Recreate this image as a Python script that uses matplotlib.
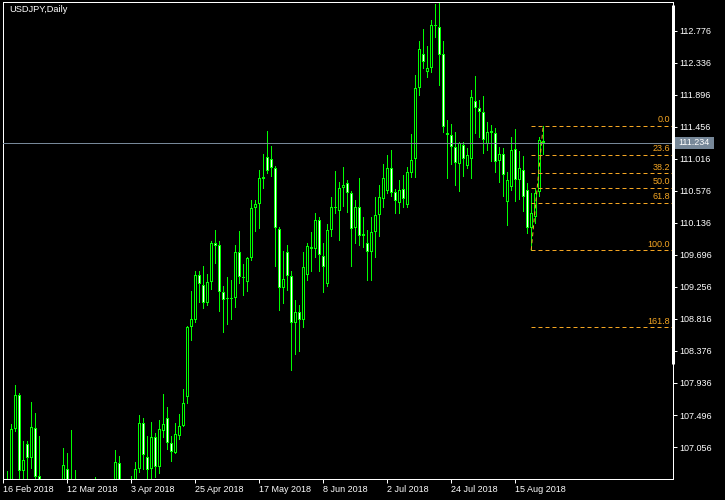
import pandas as pd
import matplotlib
matplotlib.use("Agg")
import matplotlib.pyplot as plt
import matplotlib.transforms as mtransforms
from matplotlib.patches import Rectangle

plt.rcParams["font.family"] = ["Liberation Sans", "DejaVu Sans"]

SYMBOL = "USDJPY,Daily"
FIRST_DAY = "2018-02-16"

# daily OHLC, one entry per trading day
opens = [106.10, 106.30, 106.55, 107.31, 107.77, 106.73, 107.10, 106.90, 107.32, 106.66,
         106.20, 105.75, 106.20, 106.05, 106.10, 106.30, 106.75, 106.40, 106.55, 106.30,
         106.35, 105.95, 106.10, 106.45, 105.95, 105.25, 104.75, 105.40, 105.45, 106.83,
         106.30, 106.25, 105.90, 106.55, 106.76, 107.38, 106.92, 106.75, 107.19, 106.78,
         107.28, 107.45, 107.11, 106.98, 107.21, 107.35, 107.75, 108.70, 108.80, 109.42,
         109.28, 109.04, 109.33, 109.86, 109.83, 109.18, 109.09, 109.11, 109.11, 109.73,
         109.39, 109.32, 109.65, 110.34, 110.39, 110.74, 111.04, 111.01, 110.89, 110.05,
         109.24, 109.73, 109.41, 108.76, 108.91, 108.80, 109.42, 109.80, 109.77, 110.18,
         109.68, 109.29, 110.04, 110.36, 110.30, 110.61, 110.68, 110.54, 110.06, 110.35,
         109.95, 109.86, 109.74, 110.01, 110.25, 110.47, 110.57, 110.89, 110.56, 110.41,
         110.60, 110.38, 110.82, 111.01, 111.99, 112.45, 112.21, 112.27, 112.84, 112.82,
         112.45, 111.37, 111.34, 111.18, 110.95, 111.21, 110.92, 111.02, 111.81, 111.71,
         111.66, 111.22, 111.40, 111.37, 110.98, 111.08, 110.42, 110.63, 111.15, 110.73,
         110.86, 110.59, 110.06, 110.22, 110.56, 111.26]
highs = [106.55, 106.73, 107.37, 107.91, 107.80, 107.14, 107.14, 107.67, 107.52, 107.21,
         106.40, 106.30, 106.50, 106.55, 106.50, 107.04, 106.97, 107.29, 106.74, 106.55,
         106.45, 106.30, 106.55, 106.64, 106.10, 105.45, 105.50, 105.90, 107.02, 106.93,
         106.45, 106.60, 106.66, 106.85, 107.49, 107.45, 107.21, 107.40, 107.25, 107.43,
         107.78, 107.60, 107.21, 107.38, 107.51, 107.85, 108.72, 109.20, 109.47, 109.47,
         109.54, 109.44, 109.89, 110.04, 109.89, 109.27, 109.39, 109.35, 109.83, 110.02,
         109.57, 109.66, 110.45, 110.45, 110.86, 111.08, 111.40, 111.19, 110.92, 110.08,
         109.75, 109.83, 109.47, 109.08, 109.01, 109.74, 109.86, 110.01, 110.27, 110.21,
         109.86, 110.12, 110.49, 110.85, 110.70, 110.90, 110.73, 110.58, 110.45, 110.75,
         110.22, 110.04, 110.21, 110.49, 110.66, 110.94, 111.07, 111.14, 110.60, 110.73,
         110.79, 110.91, 111.36, 112.17, 112.63, 112.80, 112.57, 112.92, 113.14, 113.16,
         112.63, 111.55, 111.50, 111.39, 111.25, 111.24, 111.16, 111.96, 112.15, 111.82,
         111.88, 111.52, 111.48, 111.44, 111.18, 111.16, 110.83, 111.32, 111.42, 111.12,
         111.06, 110.68, 110.54, 110.62, 111.32, 111.47]
lows = [105.55, 106.10, 106.40, 107.27, 106.55, 106.55, 106.55, 106.77, 106.55, 105.95,
        105.25, 105.35, 105.90, 105.85, 105.95, 106.00, 106.30, 106.25, 106.00, 105.95,
        105.60, 105.60, 105.95, 105.60, 105.15, 104.65, 104.60, 105.20, 105.30, 106.15,
        106.10, 105.65, 105.70, 105.95, 106.71, 106.76, 106.62, 106.62, 106.64, 106.70,
        107.20, 107.03, 106.87, 106.97, 107.17, 107.34, 107.66, 108.53, 108.78, 109.05,
        108.96, 109.01, 109.23, 109.59, 108.92, 108.64, 108.75, 108.82, 108.98, 109.31,
        109.15, 109.20, 109.62, 110.03, 110.07, 110.61, 110.82, 110.78, 109.55, 108.94,
        109.04, 109.21, 108.11, 108.34, 108.38, 108.71, 109.35, 109.47, 109.67, 109.47,
        109.19, 109.27, 109.95, 110.27, 109.90, 110.37, 110.29, 109.55, 109.86, 109.83,
        109.80, 109.35, 109.35, 109.67, 109.96, 110.35, 110.55, 110.50, 110.27, 110.27,
        110.36, 110.35, 110.76, 110.76, 111.89, 112.26, 112.14, 112.21, 112.69, 112.03,
        111.39, 110.75, 110.95, 110.65, 110.58, 110.78, 110.89, 110.75, 111.37, 111.32,
        111.09, 111.14, 110.98, 110.83, 110.70, 110.50, 110.10, 110.59, 110.43, 110.46,
        110.30, 109.99, 109.76, 110.14, 110.51, 111.08]
closes = [106.30, 106.55, 107.31, 107.77, 106.73, 106.88, 106.91, 107.33, 106.65, 106.20,
          105.75, 106.20, 106.05, 106.10, 106.25, 106.81, 106.40, 106.55, 106.30, 106.35,
          105.95, 106.10, 106.45, 105.95, 105.25, 104.75, 105.40, 105.50, 106.85, 106.30,
          106.25, 105.90, 106.55, 106.76, 107.38, 106.94, 106.74, 107.19, 106.78, 107.30,
          107.37, 107.11, 106.99, 107.24, 107.35, 107.66, 108.70, 108.81, 109.42, 109.29,
          109.04, 109.32, 109.86, 109.82, 109.18, 109.07, 109.10, 109.09, 109.73, 109.39,
          109.38, 109.65, 110.34, 110.40, 110.75, 110.76, 110.85, 110.89, 110.06, 109.24,
          109.37, 109.41, 108.76, 108.91, 108.80, 109.53, 109.82, 109.77, 110.18, 109.69,
          109.53, 110.04, 110.36, 110.34, 110.61, 110.65, 110.54, 110.05, 110.35, 109.95,
          109.98, 109.73, 110.01, 110.25, 110.49, 110.75, 110.89, 110.55, 110.43, 110.59,
          110.46, 110.84, 111.00, 111.99, 112.53, 112.34, 112.27, 112.86, 112.86, 112.44,
          111.45, 111.34, 111.18, 110.96, 111.23, 111.01, 111.07, 111.86, 111.71, 111.66,
          111.27, 111.39, 111.37, 110.97, 111.08, 110.79, 110.73, 111.14, 110.73, 110.89,
          110.49, 110.06, 110.27, 110.55, 111.27, 111.234]

BID = 111.234
FIB_LOW, FIB_HIGH = 109.760, 111.471
FIB_FROM, FIB_TO = 132, 135          # bars of the low / high anchors
FIB_LEVELS = [0.0, 23.6, 38.2, 50.0, 61.8, 100.0, 161.8]
PRICE_TICKS = [112.776, 112.336, 111.896, 111.456, 111.016, 110.576, 110.136,
               109.696, 109.256, 108.816, 108.376, 107.936, 107.496, 107.056]
LABEL_EVERY = 16

GREEN = "#00FF00"
FIB_COL = "#F5A623"
BID_COL = "#778899"
PX = 0.72            # one pixel in points at dpi 100
YMIN, YMAX = 106.617, 113.170
AX_H_PX = 477
PY = (YMAX - YMIN) / AX_H_PX   # one pixel in price units
XMIN = -0.175                   # puts bar centres on pixel centres (4 px per bar)

n = len(opens)
xs = list(range(n))
dates = pd.bdate_range(FIRST_DAY, periods=n)

fig = plt.figure(figsize=(7.25, 5.0), dpi=100, facecolor="black")
ax = fig.add_axes([2.5 / 725, 21 / 500, 670 / 725, AX_H_PX / 500], facecolor="black")
ax.set_xlim(XMIN, XMIN + 670 / 4)
ax.set_ylim(YMIN, YMAX)

# candles: wick, green body block, then 1px inner fill (bull = black, bear = white)
ax.vlines(xs, lows, highs, colors=GREEN, linewidth=PX, antialiased=False, zorder=2)
tops = [max(o, c) for o, c in zip(opens, closes)]
bots = [min(o, c) for o, c in zip(opens, closes)]
outer_h = [max(t - b, PY) for t, b in zip(tops, bots)]
ax.bar(xs, outer_h, bottom=bots, width=0.75, color=GREEN, linewidth=0,
       antialiased=False, zorder=3)
inner = [(x, b + PY, t - b - 2 * PY, "black" if c >= o else "white")
         for x, b, t, o, c in zip(xs, bots, tops, opens, closes) if t - b > 2.5 * PY]
ax.bar([v[0] for v in inner], [v[2] for v in inner], bottom=[v[1] for v in inner],
       width=0.25, color=[v[3] for v in inner], linewidth=0, antialiased=False, zorder=3.5)

# bid line + price box
ax.axhline(BID, color=BID_COL, linewidth=PX, zorder=5)
trans = mtransforms.blended_transform_factory(ax.transAxes, ax.transData)
ax.add_patch(Rectangle((1.0025, BID - 0.077), 0.0597, 0.154, transform=trans,
                       facecolor=BID_COL, edgecolor="none", clip_on=False, zorder=6))
ax.text(1.0325, BID, f"{BID:.3f}", transform=trans, ha="center", va="center",
        color="white", fontsize=6.5, clip_on=False, zorder=7)

# fibonacci retracement
rng = FIB_HIGH - FIB_LOW
ax.plot([FIB_FROM, FIB_TO], [FIB_LOW, FIB_HIGH], color=FIB_COL, linewidth=PX,
        linestyle=(0, (4, 3)), zorder=4)
for lvl in FIB_LEVELS:
    price = FIB_HIGH - lvl / 100 * rng
    ax.hlines(price, FIB_FROM, 170, colors=FIB_COL, linewidth=PX,
              linestyles=[(0, (4, 3))], zorder=4)
    ax.annotate(f"{lvl:.1f}", xy=(0.9963, price), xycoords=trans, xytext=(0, 1.2),
                textcoords="offset points", ha="right", va="bottom",
                color=FIB_COL, fontsize=6.5, zorder=6)

# right-edge scale marker
ax.plot([1, 1], [0.9937, 0.2411], transform=ax.transAxes, color="white",
        linewidth=3 * PX, solid_capstyle="butt", clip_on=False, zorder=6)

# axes styling
for sp in ax.spines.values():
    sp.set_color("white")
    sp.set_linewidth(PX)
ax.yaxis.tick_right()
ax.set_yticks(PRICE_TICKS)
ax.set_yticklabels([f"{t:.3f}" for t in PRICE_TICKS])
ticks = xs[::LABEL_EVERY]
ax.set_xticks(ticks)
ax.set_xticklabels([f"{dates[i].day} {dates[i]:%b %Y}" for i in ticks], ha="left")
ax.tick_params(axis="both", colors="white", labelcolor="white", labelsize=6.5,
               direction="out", length=3, width=PX)
ax.tick_params(axis="x", pad=1.5)
ax.tick_params(axis="y", pad=2)

ax.text(6.5 / 670, 1 - 3 / 477, SYMBOL, transform=ax.transAxes, ha="left", va="top",
        color="white", fontsize=6.7)

fig.savefig("out.png", dpi=100, facecolor="black")
plt.close(fig)
